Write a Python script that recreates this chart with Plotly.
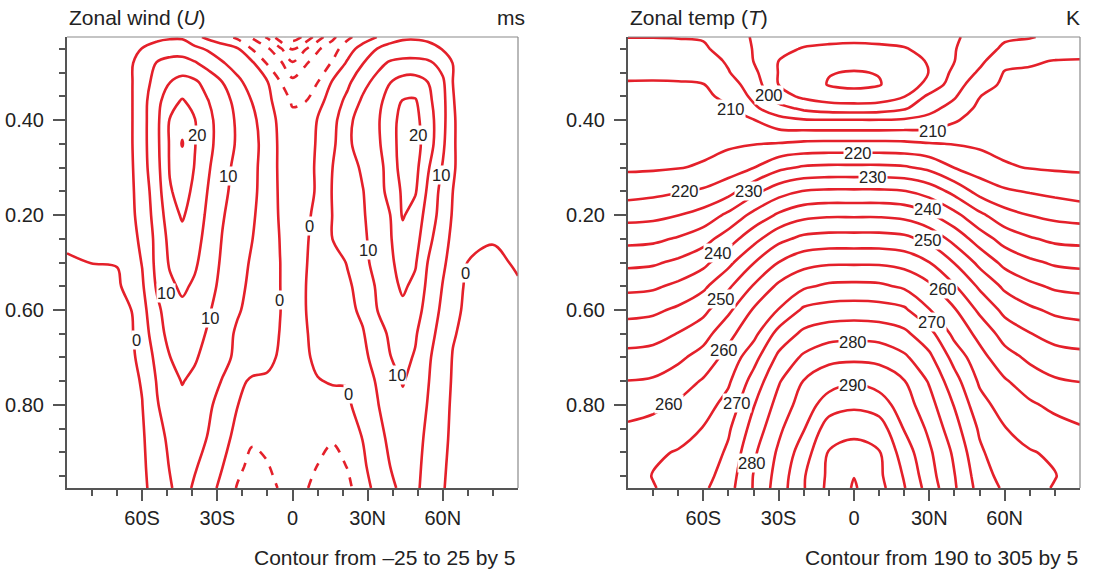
import plotly.graph_objects as go

RED = "#e4202a"
AX = "#555555"
TXT = "#222222"
FONT = "Liberation Sans, Arial, Helvetica, sans-serif"

# ---------------- Zonal wind U (m/s) ----------------
lat_u = [-90, -80, -70, -64, -60, -54, -49, -44, -39, -34, -28, -22, -16, -10, -5, 0,
         5, 10, 16, 22, 28, 34, 39, 44, 49, 54, 60, 64, 70, 80, 90]
sig_u = [0.025, 0.05, 0.08, 0.12, 0.16, 0.2, 0.25, 0.3, 0.35, 0.4, 0.45, 0.5, 0.55,
         0.6, 0.65, 0.7, 0.75, 0.8, 0.87, 0.93, 0.975]
u_rows = [
    [2.0, 2.5, 3.0, 3.4, 3.6, 4.1, 4.4, 4.4, 1.5, -1.1, -3.3, -6.2, -10.7, -15.7, -23.2, -27.4, -24.0, -17.5, -11.2, -6.0, -2.8, 0.2, 3.5, 4.4, 4.5, 4.2, 3.6, 3.3, 3.0, 2.5, 2.0],
    [2.1, 2.6, 3.2, 4.2, 5.1, 6.5, 7.5, 7.5, 6.2, 4.5, 2.5, 0.5, -5.3, -9.2, -14.0, -20.2, -15.5, -10.7, -7.0, -2.3, 2.2, 5.2, 6.3, 6.7, 6.7, 6.2, 4.8, 4.2, 3.3, 2.7, 2.2],
    [2.2, 2.7, 3.3, 4.8, 6.8, 10.4, 11.8, 12.0, 10.5, 8.3, 5.4, 3.0, 0.7, -5.5, -8.9, -14.5, -10.6, -7.7, -4.6, 0.8, 4.8, 8.5, 10.7, 11.6, 11.7, 11.1, 8.2, 4.9, 3.8, 2.8, 2.3],
    [2.3, 2.8, 3.5, 4.9, 7.8, 11.9, 14.9, 16.5, 15.8, 13.3, 10.0, 6.1, 3.0, 0.2, -4.8, -8.7, -7.0, -5.1, 0.5, 4.0, 8.4, 11.7, 14.9, 16.7, 16.9, 15.0, 10.8, 5.0, 4.0, 3.0, 2.5],
    [2.4, 2.9, 3.6, 4.9, 8.2, 13.6, 18.0, 20.5, 18.2, 15.3, 12.0, 8.5, 4.8, 1.2, -2.2, -5.6, -5.2, -1.8, 2.4, 6.3, 10.8, 13.8, 16.9, 20.3, 20.5, 16.3, 11.6, 5.1, 4.0, 3.0, 2.6],
    [2.5, 3.0, 3.7, 4.9, 8.2, 14.0, 20.2, 23.5, 20.2, 16.5, 12.7, 9.3, 6.1, 2.1, -1.0, -3.7, -2.5, 0.2, 3.3, 8.9, 12.0, 14.4, 18.3, 21.5, 21.4, 17.3, 11.7, 5.2, 4.0, 3.0, 2.6],
    [2.5, 3.0, 3.7, 4.9, 8.2, 14.0, 20.4, 25.3, 20.2, 16.5, 12.8, 9.4, 6.6, 2.8, -0.8, -2.5, -1.8, 0.4, 4.0, 9.2, 12.0, 14.1, 18.2, 21.8, 22.0, 17.5, 11.0, 5.2, 4.0, 3.0, 2.6],
    [2.3, 2.8, 3.5, 4.7, 8.0, 13.6, 20.3, 22.8, 19.8, 15.8, 11.7, 8.7, 6.2, 2.8, -0.8, -2.3, -1.6, 0.6, 5.0, 7.9, 10.7, 12.9, 17.5, 21.8, 21.5, 15.6, 9.6, 5.2, 4.0, 3.0, 2.5],
    [2.0, 2.5, 3.2, 4.5, 7.3, 12.8, 19.6, 21.6, 19.1, 15.0, 11.2, 8.2, 6.1, 2.6, -0.6, -2.2, -1.5, 0.5, 5.3, 7.5, 9.8, 13.1, 16.6, 20.8, 20.5, 14.2, 8.2, 5.0, 3.2, 2.2, 2.2],
    [1.5, 2.0, 2.8, 4.3, 6.8, 12.2, 17.7, 20.6, 17.6, 14.3, 10.4, 7.7, 5.6, 2.4, -0.4, -2.2, -1.3, 1.5, 5.1, 7.3, 9.5, 12.5, 15.0, 20.5, 17.8, 13.2, 7.7, 4.6, 2.4, 1.3, 1.8],
    [0.8, 1.5, 2.4, 4.0, 5.8, 11.6, 16.3, 18.4, 16.8, 13.5, 9.8, 7.4, 5.05, 2.2, -0.1, -2.2, -0.8, 2.0, 5.05, 7.1, 9.2, 11.9, 14.6, 18.2, 16.9, 11.5, 6.7, 4.0, 1.2, 0.3, 1.3],
    [-0.5, 0.05, 0.1, 3.0, 5.2, 11.5, 15.5, 17.0, 15.7, 12.8, 9.3, 6.8, 4.4, 2.0, 0.05, -1.9, -0.3, 1.4, 3.0, 5.3, 8.8, 11.5, 14.2, 16.8, 15.5, 9.9, 5.7, 3.4, -0.1, -0.9, 0.5],
    [-1.0, -0.8, -0.4, 1.1, 4.4, 10.7, 14.1, 15.8, 14.3, 11.8, 8.8, 6.4, 3.8, 1.8, 0.05, -1.8, -0.1, 1.2, 2.9, 4.3, 6.7, 10.8, 13.5, 15.7, 13.9, 8.9, 4.8, 1.9, -0.8, -1.5, -0.4],
    [-1.3, -1.2, -0.8, 0.05, 3.4, 9.0, 12.4, 14.0, 12.7, 10.6, 8.2, 5.5, 3.5, 1.6, 0.1, -1.8, -0.1, 1.1, 2.5, 3.8, 5.9, 10.1, 12.5, 14.0, 12.2, 8.0, 4.0, 1.1, -0.9, -1.7, -0.9],
    [-1.5, -1.4, -1.0, -0.3, 2.5, 8.0, 11.5, 12.5, 11.5, 9.7, 7.0, 4.3, 3.0, 1.4, -0.1, -1.8, -0.3, 1.0, 2.3, 3.5, 4.6, 8.3, 10.7, 12.5, 10.5, 6.9, 3.0, 0.3, -1.0, -1.8, -1.2],
    [-1.7, -1.6, -1.2, -0.6, 1.3, 6.5, 9.9, 11.2, 10.5, 8.5, 6.1, 4.2, 2.6, 1.0, -0.5, -1.8, -0.6, 0.8, 2.0, 3.0, 4.0, 6.6, 9.9, 11.2, 9.6, 5.8, 2.1, -0.2, -1.2, -1.9, -1.4],
    [-1.8, -1.7, -1.4, -0.9, 0.3, 5.4, 8.4, 10.2, 9.0, 6.9, 4.8, 1.1, -0.7, -0.6, -1.2, -1.8, -1.2, -0.2, 0.3, 0.2, 2.8, 5.5, 8.0, 10.3, 8.4, 5.3, 1.7, -0.4, -1.3, -2.0, -1.6],
    [-1.9, -1.8, -1.5, -1.1, -0.1, 4.7, 7.4, 8.9, 8.0, 5.9, 3.4, 0.1, -1.5, -2.2, -2.5, -2.5, -2.4, -2.0, -1.4, -0.6, 1.8, 4.8, 7.3, 9.0, 7.6, 4.8, 1.3, -0.6, -1.4, -2.1, -1.7],
    [-2.0, -1.9, -1.6, -1.2, -0.6, 3.2, 6.0, 7.4, 6.8, 4.9, 1.7, -1.5, -4.3, -3.8, -2.8, -2.7, -3.0, -3.7, -4.5, -2.6, 0.1, 3.5, 6.0, 7.4, 6.8, 4.0, 0.8, -0.7, -1.5, -2.1, -1.8],
    [-2.1, -2.0, -1.7, -1.3, -0.8, 2.4, 5.2, 7.0, 5.5, 3.1, 0.1, -3.7, -6.6, -5.3, -3.6, -3.3, -3.6, -5.1, -7.0, -4.8, -0.8, 2.3, 5.0, 6.8, 6.2, 3.6, 0.4, -0.8, -1.6, -2.2, -1.9],
    [-2.2, -2.1, -1.8, -1.4, -1.0, 1.9, 4.5, 7.0, 4.2, 1.9, -1.2, -5.4, -8.0, -7.0, -4.5, -3.4, -4.4, -6.8, -8.0, -6.2, -2.0, 1.6, 3.9, 6.2, 5.9, 3.3, 0.2, -0.9, -1.6, -2.2, -2.0],
]

# contour labels of the U panel (text, latitude, sigma)
u_lab_text = ["20", "20", "10", "10", "10", "10", "0", "0", "0", "10", "0", "10", "0"]
u_lab_lat = [-38.2, 50.0, -25.8, 59.2, -50.4, -33.0, -62.4, -5.2, 6.8, 30.2, 69.2, 41.8, 22.4]
u_lab_sig = [0.231, 0.231, 0.318, 0.316, 0.565, 0.616, 0.663, 0.579, 0.423, 0.473, 0.522, 0.738, 0.776]

# ---------------- Zonal temperature T (K) ----------------
lat_t = [-90, -80, -70, -60, -50, -40, -30, -20, -10, 0, 10, 20, 30, 40, 50, 60, 70, 80, 90]
sig_t = [0.025, 0.05, 0.075, 0.1, 0.125, 0.15, 0.175, 0.2, 0.25, 0.3, 0.35, 0.4, 0.45,
         0.5, 0.55, 0.6, 0.65, 0.7, 0.75, 0.8, 0.85, 0.9, 0.95, 0.975]
t_rows = [
    [204.9, 204.9, 204.8, 204.6, 202.2, 199.6, 198.5, 197.0, 196.5, 196.2, 196.5, 197.0, 198.5, 199.6, 201.2, 204.2, 204.7, 206.0, 206.5],
    [206.4, 206.4, 206.2, 205.7, 203.0, 199.8, 196.5, 194.6, 194.0, 193.8, 194.0, 194.6, 196.8, 199.8, 202.4, 206.0, 207.1, 208.0, 208.6],
    [207.9, 207.9, 207.7, 207.4, 204.3, 199.9, 195.0, 193.3, 192.1, 191.8, 192.1, 193.3, 195.4, 199.9, 203.8, 208.6, 209.6, 210.1, 210.2],
    [209.3, 209.4, 209.2, 208.8, 205.3, 201.2, 194.8, 192.6, 190.2, 189.7, 190.2, 192.6, 195.1, 201.3, 205.7, 210.3, 210.4, 210.5, 210.5],
    [210.3, 210.3, 210.3, 210.1, 207.2, 202.6, 194.9, 192.8, 189.7, 189.0, 189.7, 193.0, 196.0, 202.9, 207.8, 210.9, 210.9, 210.9, 210.8],
    [210.8, 210.8, 211.0, 210.9, 208.9, 203.9, 197.0, 194.0, 192.4, 191.9, 192.4, 194.8, 201.2, 204.5, 209.9, 211.5, 211.4, 211.3, 211.3],
    [211.3, 211.3, 211.6, 211.6, 210.4, 205.9, 201.9, 198.8, 197.4, 197.1, 197.4, 199.3, 203.5, 206.8, 211.1, 212.1, 211.9, 211.8, 211.7],
    [211.8, 211.9, 212.2, 212.3, 211.7, 210.2, 206.6, 205.4, 205.2, 205.2, 205.2, 205.6, 206.5, 209.4, 212.3, 212.7, 212.4, 212.3, 212.2],
    [213.0, 213.1, 213.5, 213.7, 214.2, 214.8, 215.3, 216.1, 216.3, 216.3, 216.3, 216.1, 215.3, 214.8, 214.2, 213.7, 213.5, 213.1, 213.0],
    [214.3, 214.4, 214.8, 215.5, 217.5, 219.9, 223.8, 225.6, 226.1, 226.1, 226.1, 225.6, 223.8, 219.9, 217.5, 215.5, 214.8, 214.4, 214.3],
    [218.0, 218.7, 219.6, 220.7, 223.2, 228.5, 232.9, 235.3, 235.8, 235.8, 235.8, 235.3, 232.9, 228.5, 223.2, 220.7, 219.6, 218.7, 217.7],
    [223.3, 223.7, 224.9, 226.9, 231.1, 236.4, 240.8, 243.5, 244.3, 244.3, 244.3, 243.5, 240.8, 236.4, 231.1, 226.9, 224.9, 223.7, 223.0],
    [228.5, 228.9, 230.5, 233.0, 237.6, 243.3, 248.6, 251.3, 252.0, 252.0, 252.0, 251.3, 248.6, 243.3, 237.6, 233.0, 230.5, 228.9, 228.5],
    [233.8, 234.3, 236.0, 238.6, 243.7, 249.8, 255.1, 258.3, 259.3, 259.3, 259.3, 258.3, 255.1, 249.8, 243.7, 238.6, 236.0, 234.3, 233.7],
    [238.7, 239.2, 241.1, 244.0, 249.2, 255.4, 261.0, 264.2, 265.9, 266.2, 265.9, 264.2, 261.0, 255.4, 249.2, 244.0, 241.1, 239.2, 238.6],
    [243.4, 244.0, 245.9, 248.7, 254.0, 260.5, 265.2, 270.9, 272.1, 272.4, 272.1, 270.9, 265.2, 260.5, 254.0, 248.7, 245.9, 244.0, 243.2],
    [247.6, 248.2, 250.2, 253.0, 258.6, 263.5, 271.8, 276.1, 277.8, 278.3, 277.8, 276.1, 271.8, 263.5, 258.6, 253.0, 250.2, 248.2, 247.4],
    [251.5, 252.0, 254.0, 257.0, 261.7, 268.2, 276.1, 280.9, 283.7, 284.0, 283.7, 280.9, 276.1, 268.2, 261.7, 257.0, 254.0, 252.0, 251.4],
    [255.1, 255.6, 257.6, 260.5, 264.3, 271.9, 279.5, 285.2, 287.9, 289.4, 287.9, 285.2, 279.5, 271.9, 264.3, 260.5, 257.6, 255.6, 254.9],
    [258.3, 258.9, 260.7, 262.9, 266.8, 274.7, 281.8, 287.4, 292.5, 294.1, 292.5, 287.4, 281.8, 274.7, 266.8, 262.9, 260.7, 258.9, 258.0],
    [260.7, 261.7, 263.2, 265.2, 269.3, 276.9, 284.0, 289.7, 297.6, 298.5, 297.6, 289.7, 284.0, 276.9, 269.3, 265.2, 263.2, 261.7, 260.4],
    [261.6, 264.3, 265.3, 266.5, 270.9, 279.1, 285.8, 292.6, 300.3, 301.9, 300.3, 292.6, 285.8, 279.1, 270.9, 266.5, 265.3, 264.3, 261.5],
    [262.5, 265.2, 266.3, 268.1, 272.5, 280.2, 286.9, 294.6, 301.0, 304.9, 301.0, 294.6, 286.9, 280.2, 272.5, 268.1, 266.3, 265.2, 262.5],
    [263.0, 264.7, 266.9, 269.1, 273.2, 280.3, 287.4, 294.7, 301.3, 305.5, 301.7, 295.3, 287.8, 280.6, 273.2, 269.2, 266.8, 264.6, 263.0],
]

# contour labels of the T panel (text, latitude, sigma)
t_lab_text = ["200", "210", "210", "220", "220", "230", "230", "240", "240", "250", "250",
              "260", "260", "270", "280", "290", "260", "270", "280"]
t_lab_lat = [-34.0, -48.8, 31.6, 1.6, -67.2, -42.0, 7.4, 29.6, -54.0, 29.4, -53.0,
             35.4, -51.6, 31.0, -0.4, -0.4, -73.6, -46.6, -40.8]
t_lab_sig = [0.147, 0.176, 0.222, 0.270, 0.350, 0.350, 0.319, 0.388, 0.481, 0.452, 0.577,
             0.555, 0.684, 0.626, 0.667, 0.758, 0.798, 0.795, 0.923]

for r in u_rows:
    assert len(r) == len(lat_u), len(r)
assert len(u_rows) == len(sig_u)
for r in t_rows:
    assert len(r) == len(lat_t), len(r)
assert len(t_rows) == len(sig_t)

# ---------------- axes / labels ----------------
x_tickvals = [-60, -30, 0, 30, 60]
x_ticktext = ["60S", "30S", "0", "30N", "60N"]
x_minor = [-80, -70, -50, -40, -20, -10, 10, 20, 40, 50, 70, 80]
y_tickvals = [0.2, 0.4, 0.6, 0.8]
y_ticktext = ["0.40", "0.20", "0.60", "0.80"]
y_minor = [0.05, 0.1, 0.15, 0.25, 0.3, 0.35, 0.45, 0.5, 0.55, 0.65, 0.7, 0.75, 0.85, 0.9, 0.95]

W, H = 1095, 575
fig = go.Figure()


def add_set(z, x, y, xa, ya, start, end, size, dash):
    fig.add_trace(go.Contour(
        z=z, x=x, y=y, xaxis=xa, yaxis=ya,
        autocontour=False,
        contours=dict(coloring="lines", start=start, end=end, size=size, showlabels=False),
        colorscale=[[0, RED], [1, RED]], showscale=False,
        line=dict(width=2.6, dash=dash, smoothing=1.0),
        hoverinfo="skip"))


# U panel: solid 0..25, dashed negatives
add_set(u_rows, lat_u, sig_u, "x", "y", 0, 25, 5, "solid")
add_set(u_rows, lat_u, sig_u, "x", "y", -25, -5, 5, "dash")
# T panel: 190..305 by 5
add_set(t_rows, lat_t, sig_t, "x2", "y2", 190, 305, 5, "solid")

ydom = [1 - 488 / H, 1 - 37 / H]
xd1 = [67 / W, 518 / W]
xd2 = [628 / W, 1080 / W]

tickfont = dict(size=20, color=TXT, family=FONT)


def xaxis(dom, anchor):
    return dict(domain=dom, anchor=anchor, range=[-90, 90], autorange=False,
                tickmode="array", tickvals=x_tickvals, ticktext=x_ticktext,
                ticks="outside", ticklen=11, tickwidth=1.5, tickcolor=AX,
                showline=True, linecolor=AX, linewidth=2, showgrid=False, zeroline=False,
                minor=dict(tickmode="array", tickvals=x_minor, ticks="outside", ticklen=6,
                           tickwidth=1.5, tickcolor=AX, showgrid=False),
                tickfont=tickfont, automargin=False)


def yaxis(anchor):
    return dict(domain=ydom, anchor=anchor, range=[0.975, 0.025], autorange=False,
                tickmode="array", tickvals=y_tickvals, ticktext=y_ticktext,
                ticks="outside", ticklen=12, tickwidth=1.5, tickcolor=AX,
                showline=True, linecolor=AX, linewidth=2, showgrid=False, zeroline=False,
                minor=dict(tickmode="array", tickvals=y_minor, ticks="outside", ticklen=6,
                           tickwidth=1.5, tickcolor=AX, showgrid=False),
                tickfont=tickfont, ticklabelstandoff=5, automargin=False)


shapes = []
for xr, yr in (("x", "y"), ("x2", "y2")):
    shapes.append(dict(type="line", xref=xr + " domain", yref=yr + " domain",
                       x0=0, x1=1, y0=1, y1=1, line=dict(color="#8a8a8a", width=1.2)))
    shapes.append(dict(type="line", xref=xr + " domain", yref=yr + " domain",
                       x0=1, x1=1, y0=0, y1=1, line=dict(color="#8a8a8a", width=1.2)))

afont = dict(size=21, color=TXT, family=FONT)
ty = 1 - 17 / H
by = 1 - 557 / H
annotations = [
    dict(text="Zonal wind (<i>U</i>)", x=67 / W, y=ty, xanchor="left"),
    dict(text="ms", x=527 / W, y=ty, xanchor="right"),
    dict(text="Zonal temp (<i>T</i>)", x=628 / W, y=ty, xanchor="left"),
    dict(text="K", x=1082 / W, y=ty, xanchor="right"),
    dict(text="Contour from \u201325 to 25 by 5", x=518 / W, y=by, xanchor="right"),
    dict(text="Contour from 190 to 305 by 5", x=1080 / W, y=by, xanchor="right"),
]
for a in annotations:
    a.update(xref="paper", yref="paper", yanchor="middle", showarrow=False, font=afont)

labfont = dict(size=16.5, color=TXT, family=FONT)
for txt, la, sg in zip(u_lab_text, u_lab_lat, u_lab_sig):
    annotations.append(dict(text=txt, x=la, y=sg, xref="x", yref="y", showarrow=False,
                            bgcolor="white", borderpad=0, font=labfont,
                            xanchor="center", yanchor="middle"))
for txt, la, sg in zip(t_lab_text, t_lab_lat, t_lab_sig):
    annotations.append(dict(text=txt, x=la, y=sg, xref="x2", yref="y2", showarrow=False,
                            bgcolor="white", borderpad=0, font=labfont,
                            xanchor="center", yanchor="middle"))

fig.update_layout(
    width=W, height=H, margin=dict(l=0, r=0, t=0, b=0),
    paper_bgcolor="white", plot_bgcolor="white", showlegend=False,
    xaxis=xaxis(xd1, "y"), yaxis=yaxis("x"),
    xaxis2=xaxis(xd2, "y2"), yaxis2=yaxis("x2"),
    shapes=shapes, annotations=annotations,
    font=dict(family=FONT, color=TXT),
)

fig.write_html("out.html",
               config={"displayModeBar": False},
               post_script="document.body.style.margin='0';document.body.style.padding='0';")
